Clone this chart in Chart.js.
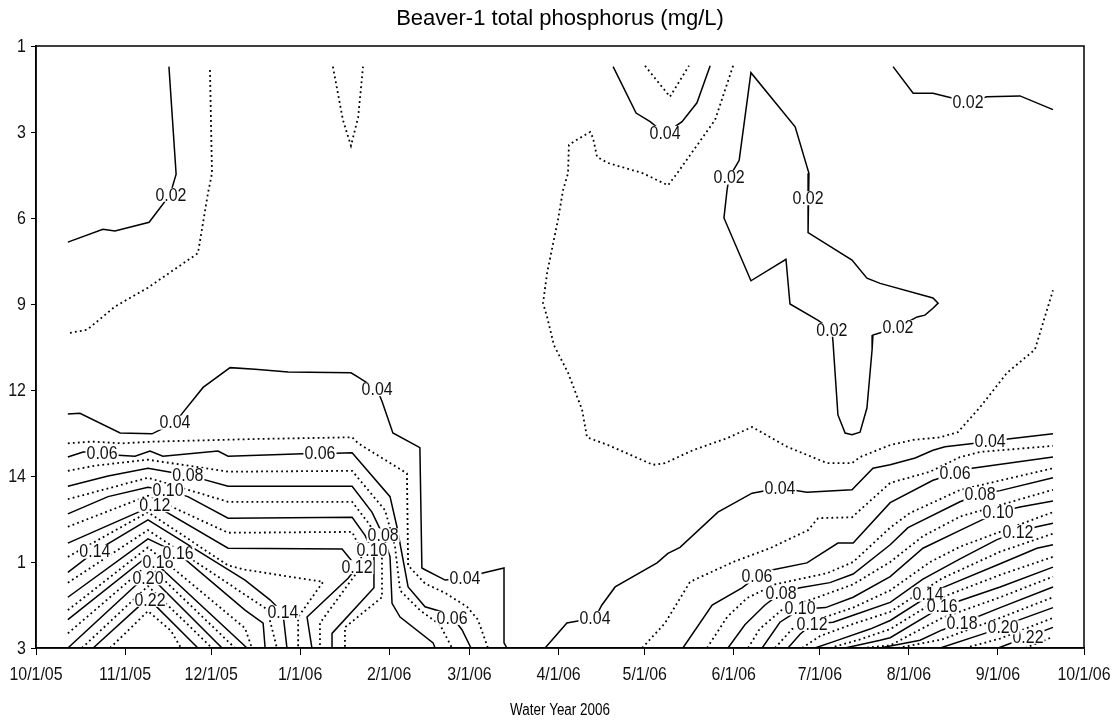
<!DOCTYPE html>
<html>
<head>
<meta charset="utf-8">
<title>Beaver-1 total phosphorus</title>
<script src="https://cdn.jsdelivr.net/npm/chart.js@4.4.1/dist/chart.umd.min.js"></script>
<style>
  html, body { margin: 0; padding: 0; background: #fff; }
</style>
</head>
<body>
<canvas id="chart" width="1120" height="726"></canvas>
<script>
const monthLabels = ['10/1/05', '11/1/05', '12/1/05', '1/1/06', '2/1/06', '3/1/06', '4/1/06', '5/1/06', '6/1/06', '7/1/06', '8/1/06', '9/1/06', '10/1/06'];
const monthDays = [0, 31, 61, 92, 123, 151, 182, 212, 243, 273, 304, 335, 365];
const depthLabels = ['1', '3', '6', '9', '12', '14', '1', '3'];

// contour lines, [days since 10/1/05, depth row]
const p02a = [[46.3,0.24],[48.8,1.49],[46.7,1.73],[39.4,2.05],[27.5,2.15],[23.3,2.13],[11.1,2.28]];
const p02b = [[244.9,1.33],[249,0.31],[264.4,0.94],[269.2,1.48],[268.9,1.77],[268.9,2.17],[284.2,2.49],[289.4,2.7],[294,2.76],[312.4,2.93],[314.2,2.99],[312.4,3.05],[309.6,3.13],[306.9,3.15],[300.2,3.27],[291.5,3.36],[291.2,3.53],[289.4,4.21],[287,4.49],[284.2,4.52],[281.8,4.5],[279.3,4.29],[277.6,3.45],[277.2,3.3],[272.4,3.19],[262.6,3.0],[261.2,2.48],[249,2.73],[239.6,2.0],[240.7,1.67],[241.4,1.53],[244.9,1.33]];
const p02c = [[298.5,0.24],[305.5,0.55],[312.4,0.55],[324.6,0.65],[331.2,0.59],[342.7,0.58],[354.2,0.74]];

const p03a = [[60.6,0.28],[61.3,1.48],[59.9,1.71],[56.4,2.41],[39,2.81],[27.5,3.03],[17.8,3.3],[11.1,3.34]];
const p03b = [[103.4,0.24],[106.9,0.86],[109.7,1.16],[112.2,0.83],[113.9,0.24]];
const p03c = [[242.8,0.23],[236.5,0.86],[234.8,0.94],[223.3,1.48],[220.1,1.62],[211.4,1.48],[199.2,1.36],[195.4,1.29],[194,1.07],[193,1.0],[188.4,1.09],[185.6,1.15],[185.3,1.48],[183.6,1.67],[181.8,2.02],[178,2.64],[176.6,2.99],[178,3.15],[180.4,3.48],[185.3,3.8],[190.2,4.23],[191.9,4.55],[199.2,4.64],[214.9,4.87],[219.1,4.85],[228.8,4.7],[240.7,4.56],[249.4,4.43],[261.6,4.66],[275.5,4.85],[284.2,4.85],[287,4.78],[297.5,4.64],[305.5,4.58],[314.9,4.55],[321.1,4.49],[328.8,4.2],[338.2,3.8],[347.9,3.53],[354.2,2.84]];
const p03d = [[212.1,0.23],[220.8,0.59],[227.4,0.23]];

const p04a = [[201,0.24],[209,0.78],[213.9,0.88],[219.1,1.02],[225,0.88],[230.2,0.66],[234.8,0.23]];
const p04b = [[11.1,4.28],[15.3,4.27],[29.3,4.5],[40.4,4.51],[48.4,4.38],[51.2,4.26],[58.2,3.97],[67.6,3.74],[76.3,3.76],[87.8,3.79],[109.7,3.8],[112.2,3.85],[118.8,3.99],[120.5,4.13],[124.3,4.5],[133.7,4.67],[134.4,6.07],[135.5,6.09],[142.5,6.21],[149.4,6.19],[155.3,6.13],[163,6.07],[163,6.94],[164,7]];
const p04c = [[177.3,7],[184.9,6.71],[194.7,6.65],[197.1,6.5],[201.7,6.29],[216.3,6.01],[220.1,5.9],[224.3,5.83],[237.5,5.42],[249.4,5.2],[259.1,5.14],[268.5,5.19],[284.2,5.16],[291.5,4.91],[297.5,4.87],[306.2,4.79],[312.4,4.7],[316.6,4.66],[332.3,4.6],[338.5,4.57],[354.2,4.51]];

const p05a = [[11.1,4.62],[19.5,4.6],[30,4.62],[41.4,4.6],[76.3,4.57],[110.1,4.55],[112.2,4.62],[129.2,4.97],[129.6,6.04],[135.5,6.25],[142.5,6.36],[150.1,6.52],[153.9,6.67],[157.4,7]];
const p05b = [[211.1,7],[219.1,6.71],[227.8,6.23],[242.8,6.0],[255.6,5.84],[268.9,5.63],[272.4,5.49],[284.2,5.48],[297.5,5.08],[311.4,4.95],[321.8,4.78],[328.8,4.72],[354.2,4.65]];
const p06a = [[11.1,4.78],[16.4,4.72],[23,4.72],[28.6,4.76],[34.5,4.77],[39.7,4.71],[44.2,4.77],[63.4,4.71],[66.9,4.77],[93,4.74],[98.9,4.74],[110.1,4.73],[123.3,5.24],[125.7,5.59],[129.6,6.29],[135.5,6.52],[142.5,6.59],[145.2,6.65],[148.4,6.79],[151.5,7]];
const p06b = [[225.3,7],[235.5,6.5],[245.9,6.3],[251.1,6.17],[256.7,6.09],[268.5,6.01],[279.3,5.78],[284.6,5.78],[297.5,5.31],[312.4,5.05],[320.1,4.97],[326,4.91],[354.2,4.78]];
const p07a = [[11.1,4.94],[20.5,4.88],[39,4.81],[66.9,4.95],[110.1,4.94],[121.6,5.4],[125,5.81],[126.8,6.33],[133.7,6.56],[140.7,6.73],[144.9,7]];
const p07b = [[233.7,7],[240.7,6.64],[247.6,6.42],[257.4,6.26],[275.5,6.13],[284.6,6.0],[297.5,5.6],[304.4,5.43],[322,5.16],[354.2,4.91]];
const p08a = [[11.1,5.12],[25.1,5.0],[39,4.91],[52.9,4.99],[66.9,5.12],[110.1,5.12],[117,5.42],[120.9,5.69],[123.3,5.94],[124,6.48],[126.8,6.64],[138.3,6.94],[139,7]];
const p08b = [[241,7],[246.9,6.73],[253.9,6.5],[259.5,6.36],[266.1,6.3],[276.5,6.24],[284.6,6.14],[297.5,5.8],[303.7,5.6],[321.8,5.3],[328.8,5.21],[335.8,5.17],[354.2,5.02]];
const p09a = [[11.1,5.27],[39,5.02],[66.9,5.3],[110.1,5.3],[116.3,5.57],[120.5,5.9],[120.5,6.41],[107.6,6.76],[107.6,7]];
const p09b = [[248,7],[252,6.78],[260,6.55],[273.1,6.4],[284.6,6.26],[297.5,6.0],[308.9,5.7],[322,5.47],[354.2,5.16]];
const p10a = [[11.1,5.44],[25.1,5.24],[39,5.13],[46,5.17],[52.9,5.24],[66.9,5.49],[110.1,5.48],[114.6,5.69],[117,5.86],[117.7,5.94],[117.7,6.3],[103.1,6.83],[103.1,7]];
const p10b = [[252.9,7],[259.1,6.7],[266.1,6.55],[275,6.53],[284.6,6.41],[297.5,6.17],[308.9,5.84],[322,5.63],[335.1,5.42],[342.7,5.36],[354.2,5.29]];
const p11a = [[11.1,5.59],[39,5.23],[66.9,5.66],[110.1,5.65],[113.5,5.88],[112.9,6.07],[98.9,6.71],[98.9,7]];
const p11b = [[257.4,7],[263.3,6.78],[273.1,6.66],[284.6,6.53],[297.5,6.33],[311.4,6.0],[322,5.82],[354.2,5.42]];
const p12a = [[11.1,5.78],[39,5.37],[41.4,5.34],[66.9,5.84],[106.6,5.85],[111.8,6.06],[108.7,6.19],[94.4,6.64],[96.1,7]];
const p12b = [[261.9,7],[266.1,6.84],[270.3,6.72],[277.6,6.7],[284.6,6.62],[297.5,6.47],[308.9,6.2],[322,5.96],[334.7,5.74],[342,5.65],[348.6,5.59],[354.2,5.55]];
const p13a = [[11.1,5.94],[39,5.42],[66.9,6.04],[72.8,6.09],[100,6.23],[91.3,6.64],[91.3,7]];
const p13b = [[266.8,7],[273.1,6.86],[284.6,6.72],[297.5,6.58],[315.6,6.19],[335.8,5.88],[354.2,5.67]];
const p14a = [[11.1,6.12],[20.5,5.88],[39,5.51],[72.8,6.21],[81.5,6.44],[86,6.59],[87.4,7]];
const p14b = [[271.3,7],[278.3,6.92],[290.5,6.78],[297.5,6.68],[310.7,6.4],[315.6,6.3],[335.8,6.02],[348.6,5.84],[354.2,5.8]];
const p15a = [[11.1,6.24],[39,5.63],[72.8,6.38],[80.5,6.55],[83.9,7]];
const p15b = [[276.5,7],[287,6.9],[297.5,6.78],[315.6,6.41],[335.8,6.15],[354.2,5.94]];
const p16a = [[11.1,6.41],[39,5.73],[49.5,5.9],[72.8,6.56],[79.1,6.71],[79.8,7]];
const p16b = [[281.8,7],[294,6.91],[297.5,6.88],[315.6,6.52],[335.8,6.29],[354.2,6.06]];
const p17a = [[11.1,6.56],[39,5.83],[72.8,6.77],[75.2,7]];
const p17b = [[287.7,7],[297.5,6.97],[315.6,6.65],[335.8,6.41],[354.2,6.17]];
const p18a = [[11.1,6.67],[39,5.93],[73.5,7]];
const p18b = [[294,7],[307.9,6.91],[315.6,6.79],[322.5,6.71],[335.8,6.53],[354.2,6.29]];
const p19a = [[11.1,6.83],[39,6.03],[69.3,7]];
const p19b = [[300.2,7],[315.6,6.9],[335.8,6.65],[354.2,6.41]];
const p20a = [[11.1,7],[39,6.14],[64.8,7]];
const p20b = [[314.9,7],[332.3,6.81],[336.8,6.76],[342.7,6.67],[354.2,6.53]];
const p21a = [[16,7],[39,6.28],[61.3,7]];
const p21b = [[323.6,7],[335.8,6.89],[354.2,6.65]];
const p22a = [[19.9,7],[39,6.42],[56.4,7]];
const p22b = [[335.1,7],[345.5,6.87],[354.2,6.76]];
const p23a = [[25.8,7],[39,6.57],[47,6.8],[50.5,7]];
const p23b = [[344.5,7],[354.2,6.87]];

const contourLines = [
  [0.02, p02a], [0.02, p02b], [0.02, p02c],
  [0.03, p03a], [0.03, p03b], [0.03, p03c], [0.03, p03d],
  [0.04, p04a], [0.04, p04b], [0.04, p04c],
  [0.05, p05a], [0.05, p05b], [0.06, p06a], [0.06, p06b],
  [0.07, p07a], [0.07, p07b], [0.08, p08a], [0.08, p08b],
  [0.09, p09a], [0.09, p09b], [0.10, p10a], [0.10, p10b],
  [0.11, p11a], [0.11, p11b], [0.12, p12a], [0.12, p12b],
  [0.13, p13a], [0.13, p13b], [0.14, p14a], [0.14, p14b],
  [0.15, p15a], [0.15, p15b], [0.16, p16a], [0.16, p16b],
  [0.17, p17a], [0.17, p17b], [0.18, p18a], [0.18, p18b],
  [0.19, p19a], [0.19, p19b], [0.20, p20a], [0.20, p20b],
  [0.21, p21a], [0.21, p21b], [0.22, p22a], [0.22, p22b],
  [0.23, p23a], [0.23, p23b]
];

// in-line labels [text, day, depth row]
const lineLabels = [
  ['0.02', 47, 1.73], ['0.04', 219.1, 1.01], ['0.02', 241.4, 1.53], ['0.02', 268.9, 1.77],
  ['0.02', 277.2, 3.3], ['0.02', 300.2, 3.27], ['0.02', 324.6, 0.65],
  ['0.04', 48.4, 4.38], ['0.06', 23, 4.74], ['0.08', 52.9, 4.99], ['0.12', 41.4, 5.34], ['0.10', 46, 5.17],
  ['0.14', 20.5, 5.88], ['0.18', 42.5, 6.0], ['0.16', 49.5, 5.9], ['0.20', 39, 6.19], ['0.22', 39.7, 6.44],
  ['0.04', 118.8, 3.99], ['0.06', 98.9, 4.74], ['0.08', 120.9, 5.69], ['0.12', 111.8, 6.06], ['0.10', 117, 5.86],
  ['0.14', 86, 6.59], ['0.04', 149.4, 6.19], ['0.06', 144.9, 6.65], ['0.04', 194.7, 6.65],
  ['0.04', 259.1, 5.14], ['0.06', 251.1, 6.17], ['0.08', 259.5, 6.36], ['0.12', 270.3, 6.72], ['0.10', 266.1, 6.54],
  ['0.04', 332.3, 4.6], ['0.06', 320.1, 4.97], ['0.08', 328.8, 5.21], ['0.10', 335.1, 5.42], ['0.12', 342, 5.65],
  ['0.14', 310.7, 6.38], ['0.18', 322.5, 6.71], ['0.16', 315.6, 6.52], ['0.22', 345.5, 6.87], ['0.20', 336.8, 6.76]
];

const FONT = 'Arial, "Liberation Sans", sans-serif';
const SQUEEZE = 0.84;

function isSolid(level) {
  return Math.round(level * 100) % 2 === 0;
}

// narrow text, like the original export
function drawText(ctx, text, x, y, size, align) {
  ctx.save();
  ctx.translate(x, y);
  ctx.scale(SQUEEZE, 1);
  ctx.font = size + 'px ' + FONT;
  ctx.textAlign = align;
  ctx.textBaseline = 'middle';
  ctx.fillText(text, 0, 0);
  ctx.restore();
}

const datasets = contourLines.map(([level, pts]) => ({
  label: level.toFixed(2),
  data: pts.map(p => ({ x: p[0], y: p[1] })),
  showLine: true,
  borderColor: '#000',
  borderWidth: isSolid(level) ? 1.5 : 1.8,
  borderDash: isSolid(level) ? [] : [1.8, 3.2],
  pointRadius: 0,
  tension: 0,
  fill: false
}));

const contourText = {
  id: 'contourText',
  afterDatasetsDraw(chart) {
    const ctx = chart.ctx;
    const xs = chart.scales.x;
    const ys = chart.scales.y;
    ctx.save();
    ctx.font = '19px ' + FONT;
    lineLabels.forEach(([text, d, r]) => {
      const px = xs.getPixelForValue(d);
      const py = ys.getPixelForValue(r);
      const w = ctx.measureText(text).width * SQUEEZE;
      ctx.fillStyle = '#fff';
      ctx.fillRect(px - w / 2 - 1, py - 7, w + 2, 14);
      ctx.fillStyle = '#111';
      drawText(ctx, text, px, py + 0.5, 19, 'center');
    });
    ctx.restore();
  }
};

const frameAndText = {
  id: 'frameAndText',
  afterDraw(chart) {
    const ctx = chart.ctx;
    const a = chart.chartArea;
    const xs = chart.scales.x;
    const ys = chart.scales.y;
    ctx.save();
    ctx.strokeStyle = '#000';
    ctx.lineWidth = 1.5;
    ctx.strokeRect(a.left, a.top, a.right - a.left, a.bottom - a.top);
    ctx.fillStyle = '#111';
    monthDays.forEach((d, i) => drawText(ctx, monthLabels[i], xs.getPixelForValue(d), a.bottom + 27, 19, 'center'));
    depthLabels.forEach((t, i) => drawText(ctx, t, a.left - 10, ys.getPixelForValue(i) + 1, 19, 'right'));
    ctx.fillStyle = '#000';
    ctx.font = '22px ' + FONT;
    ctx.textAlign = 'center';
    ctx.textBaseline = 'middle';
    ctx.fillText('Beaver-1 total phosphorus (mg/L)', (a.left + a.right) / 2, 19);
    drawText(ctx, 'Water Year 2006', (a.left + a.right) / 2, 711, 16, 'center');
    ctx.restore();
  }
};

new Chart(document.getElementById('chart').getContext('2d'), {
  type: 'scatter',
  data: { datasets },
  options: {
    responsive: false,
    animation: false,
    layout: { padding: { top: 46, right: 36, left: 0, bottom: 0 } },
    plugins: {
      legend: { display: false },
      tooltip: { enabled: false }
    },
    scales: {
      x: {
        type: 'linear',
        min: 0,
        max: 365,
        afterBuildTicks: scale => { scale.ticks = monthDays.map(v => ({ value: v })); },
        afterFit: scale => { scale.height = 78; },
        ticks: { display: false },
        grid: { drawOnChartArea: false, tickLength: 7, color: '#000' },
        border: { color: '#000', width: 1.5 }
      },
      y: {
        type: 'linear',
        reverse: true,
        min: 0,
        max: 7,
        afterBuildTicks: scale => { scale.ticks = depthLabels.map((_, i) => ({ value: i })); },
        afterFit: scale => { scale.width = 36; },
        ticks: { display: false },
        grid: { drawOnChartArea: false, tickLength: 5, color: '#000' },
        border: { color: '#000', width: 1.5 }
      }
    }
  },
  plugins: [contourText, frameAndText]
});
</script>
</body>
</html>
